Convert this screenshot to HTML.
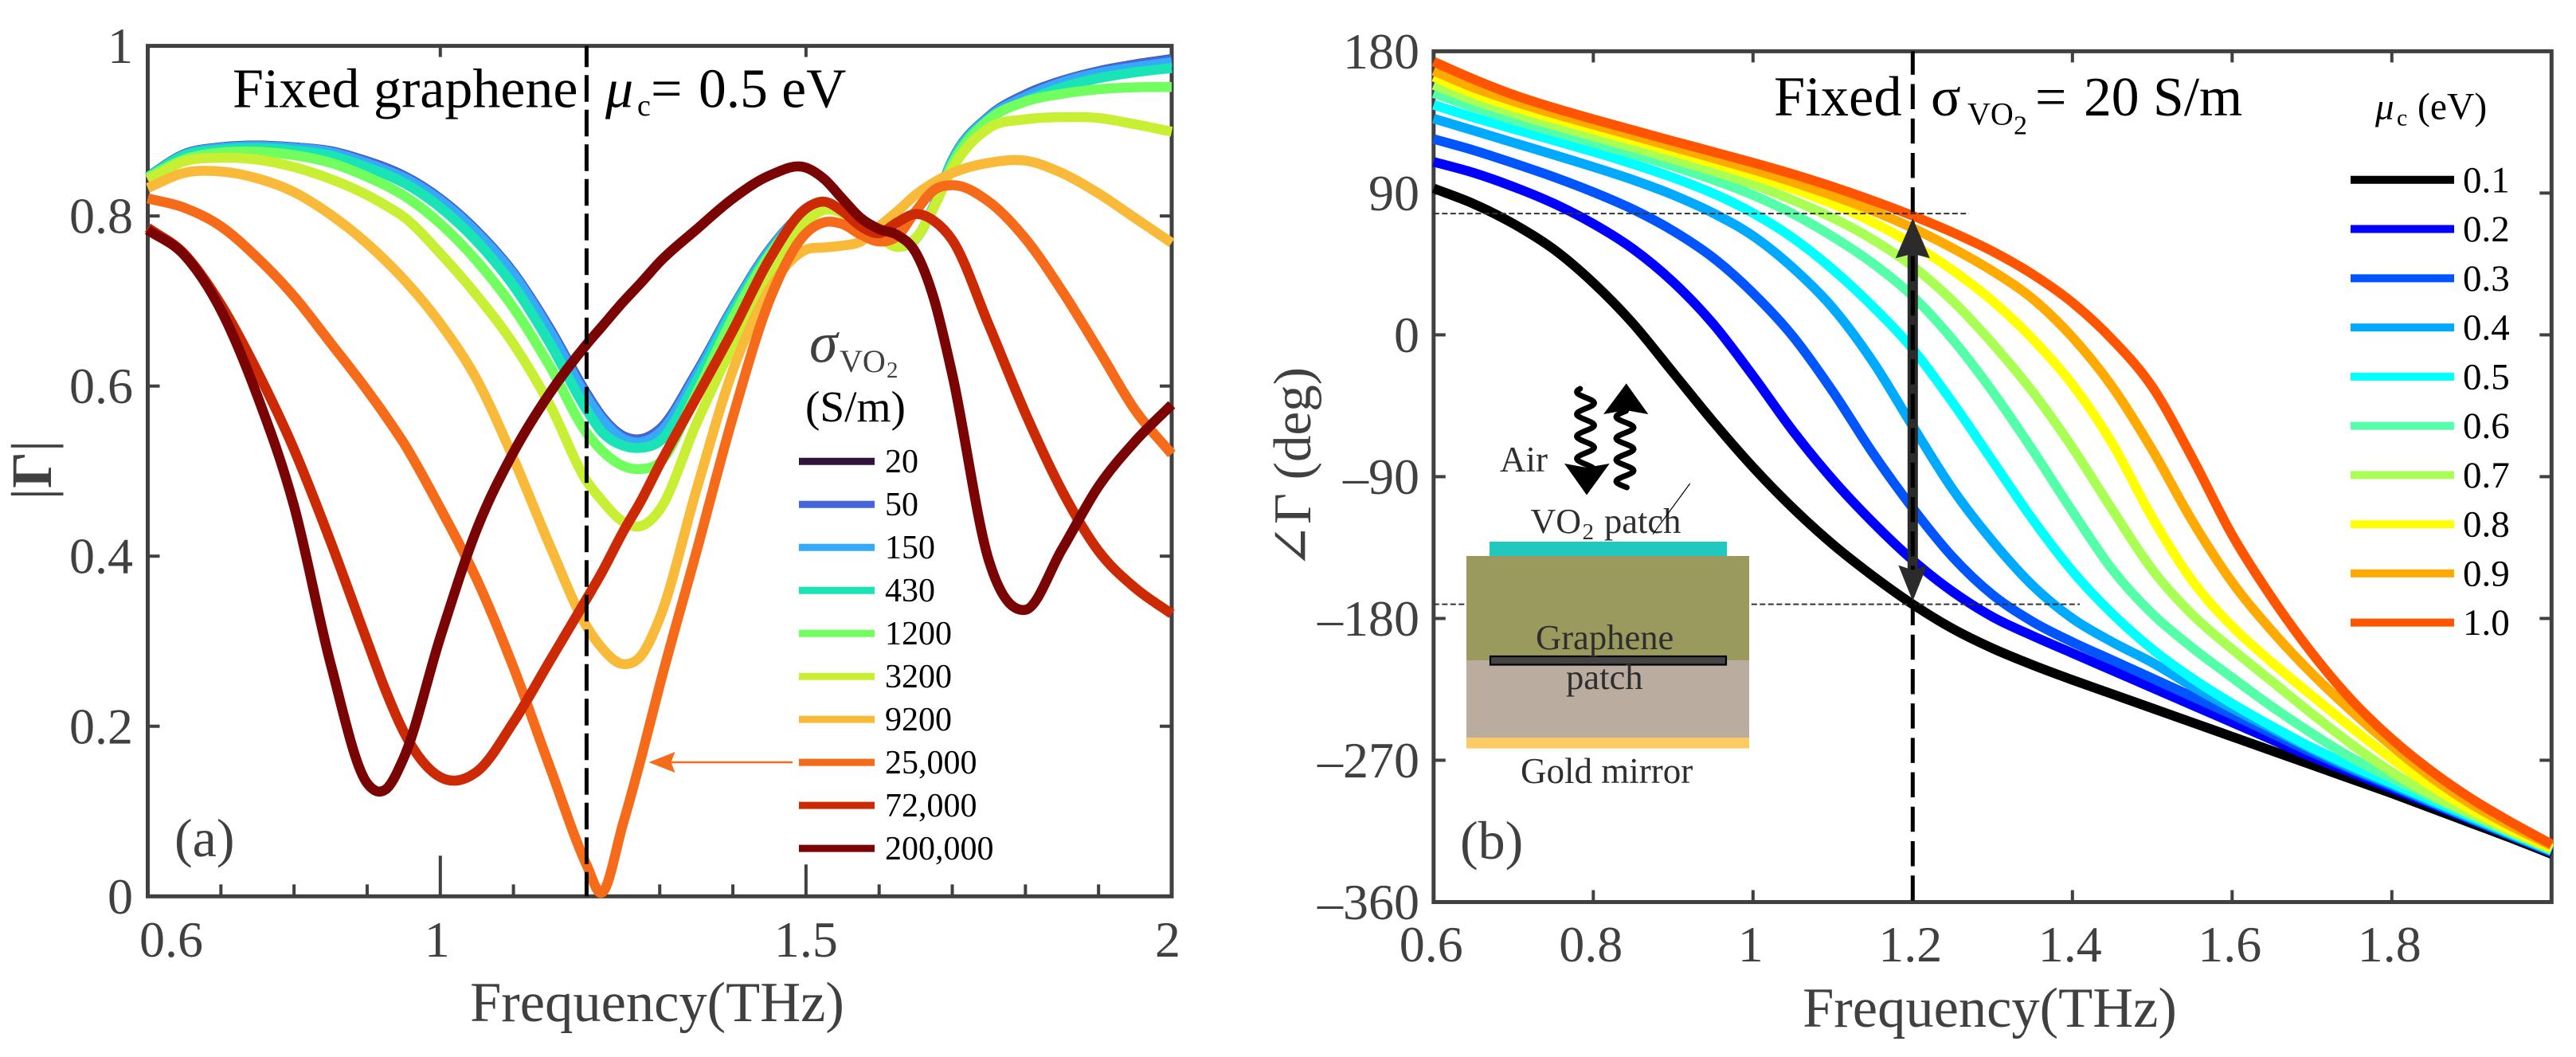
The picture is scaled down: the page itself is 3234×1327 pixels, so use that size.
<!DOCTYPE html>
<html lang="en">
<head>
<meta charset="utf-8">
<title>Reflection magnitude and phase vs frequency</title>
<style>
html,body{margin:0;padding:0;background:#fff;}
svg{display:block;font-family:"Liberation Serif","DejaVu Serif",serif;}
</style>
</head>
<body>
<svg id="fig" xmlns="http://www.w3.org/2000/svg" width="3234" height="1327" viewBox="0 0 3234 1327">
<rect x="0" y="0" width="3234" height="1327" fill="#fff"/>
<g id="panelA"></g>
<g id="panelB"></g>

<!-- Panel a static text -->
<text x="292" y="134.5" font-size="70" fill="#000">Fixed graphene</text>
<text x="760" y="134.5" font-size="70" font-style="italic" fill="#000">μ</text>
<text x="800" y="145" font-size="38" fill="#000">c</text>
<text x="817" y="134.5" font-size="70" fill="#000">=</text>
<text x="877" y="134.5" font-size="69.5" fill="#000">0.5 eV</text>
<text x="219" y="1075" font-size="68" fill="#404040">(a)</text>
<text x="825" y="1282" font-size="70.5" fill="#404040" text-anchor="middle">Frequency(THz)</text>
<text transform="translate(64,590) rotate(-90)" font-size="72" fill="#404040" text-anchor="middle">|<tspan font-weight="bold">Γ</tspan>|</text>
<text x="1016" y="454.5" font-size="72" font-style="italic" fill="#404040">σ</text>
<text x="1054" y="467" font-size="40" fill="#404040">VO</text>
<text x="1113" y="474" font-size="29" fill="#404040">2</text>
<text x="1011" y="529" font-size="55.3" fill="#000">(S/m)</text>

<line x1="995" y1="957" x2="840" y2="957" stroke="#f66b19" stroke-width="2.5"/>
<polygon points="814.5,957 847.5,944 842.5,957 847.5,970" fill="#f66b19"/>

<!-- Panel b static text -->
<text x="2227" y="145" font-size="70.5" fill="#000">Fixed</text>
<text x="2424" y="145" font-size="70" fill="#000">σ</text>
<text x="2470" y="156.5" font-size="40" fill="#000">VO</text>
<text x="2528" y="168.5" font-size="34" fill="#000">2</text>
<text x="2555" y="145" font-size="70" fill="#000">=</text>
<text x="2616" y="145" font-size="69.6" fill="#000">20 S/m</text>
<text x="1833" y="1078" font-size="68" fill="#404040">(b)</text>
<text x="2498" y="1289" font-size="70.5" fill="#404040" text-anchor="middle">Frequency(THz)</text>
<text transform="translate(1645,461) rotate(-90)" font-size="67" fill="#404040" text-anchor="end">∠Γ (deg)</text>
<text x="2982" y="149.5" font-size="47" font-style="italic" fill="#000">μ</text>
<text x="3009" y="157.5" font-size="30" fill="#000">c</text>
<text x="3035" y="149.5" font-size="47.6" fill="#000">(eV)</text>

<!-- Inset: device schematic -->
<g>
  <rect x="1870" y="680" width="298" height="19" fill="#20c8c0"/>
  <rect x="1841" y="698" width="355" height="131" fill="#9a9a5e"/>
  <rect x="1841" y="829" width="355" height="97" fill="#baad9f"/>
  <rect x="1841" y="926" width="355" height="13.6" fill="#fdcb66"/>
  <rect x="1871" y="824" width="296" height="10.5" fill="#444" stroke="#000" stroke-width="2.2"/>
  <text x="1883" y="592" font-size="45" fill="#2e2e2e">Air</text>
  <text x="1921.5" y="669" font-size="44" fill="#2e2e2e">VO</text>
  <text x="1986.5" y="677" font-size="29" fill="#2e2e2e">2</text>
  <text x="2014" y="669" font-size="44.5" fill="#2e2e2e">patch</text>
  <line x1="2121.7" y1="607" x2="2075" y2="670.7" stroke="#000" stroke-width="1.2"/>
  <text x="1928" y="815" font-size="44.6" fill="#2e2e2e">Graphene</text>
  <text x="1966" y="865" font-size="44.6" fill="#2e2e2e">patch</text>
  <text x="1909" y="983" font-size="45" fill="#2e2e2e">Gold mirror</text>
  <polygon points="1992,621.5 1964,582 1992,587 2020.7,582" fill="#000"/>
  <polygon points="2041.7,481.4 2013,520 2041,515 2069.3,520" fill="#000"/>
  <polyline id="waveIn" fill="none" stroke="#000" stroke-width="7" stroke-linecap="round" stroke-linejoin="round"/>
  <polyline id="waveOut" fill="none" stroke="#000" stroke-width="7" stroke-linecap="round" stroke-linejoin="round"/>
</g>
</svg>

<script>
// ---------- Panel (a) data ----------
const freqA = [0.6,0.65,0.7,0.75,0.8,0.85,0.9,0.925,0.95,1,1.05,1.1,1.15,1.2,1.22,1.25,1.275,1.3,1.35,1.4,1.45,1.5,1.525,1.55,1.575,1.6,1.625,1.65,1.675,1.7,1.75,1.8,1.85,1.9,1.95,2];
const sigma20 = [0.8462,0.8727,0.8807,0.8828,0.8807,0.8762,0.8642,0.8567,0.8472,0.8202,0.7822,0.7332,0.6672,0.5912,0.5652,0.5412,0.5377,0.5492,0.6152,0.6922,0.7602,0.8047,0.8122,0.8057,0.7912,0.7767,0.7647,0.7732,0.8122,0.8654,0.917,0.9427,0.9589,0.9702,0.9782,0.9845];
const sigma50 = [0.846,0.8725,0.8805,0.8826,0.8805,0.876,0.864,0.8565,0.847,0.82,0.782,0.733,0.667,0.591,0.565,0.541,0.5375,0.549,0.615,0.692,0.76,0.8045,0.812,0.8055,0.791,0.7765,0.7645,0.773,0.812,0.8652,0.9168,0.9425,0.9587,0.97,0.978,0.9842];
const sigma150 = [0.846,0.872,0.88,0.882,0.88,0.875,0.862,0.854,0.845,0.818,0.78,0.731,0.664,0.587,0.562,0.538,0.534,0.545,0.612,0.691,0.759,0.8045,0.812,0.8055,0.791,0.7765,0.7645,0.773,0.812,0.865,0.916,0.94,0.957,0.968,0.975,0.981];
const sigma430 = [0.8455,0.871,0.878,0.88,0.877,0.871,0.857,0.849,0.839,0.81,0.77,0.718,0.65,0.572,0.547,0.53,0.5275,0.535,0.605,0.687,0.756,0.804,0.813,0.806,0.791,0.7765,0.7645,0.773,0.811,0.863,0.914,0.935,0.951,0.962,0.969,0.974];
const sigma1200 = [0.8455,0.8665,0.8745,0.8755,0.8715,0.8625,0.846,0.836,0.824,0.791,0.747,0.692,0.623,0.545,0.525,0.506,0.5025,0.51,0.591,0.68,0.754,0.8025,0.8125,0.8065,0.791,0.7765,0.7652,0.774,0.8104,0.8604,0.913,0.9345,0.9436,0.949,0.9513,0.9516];
const sigma3200 = [0.8426,0.8642,0.8684,0.8662,0.8575,0.8435,0.8245,0.8125,0.799,0.756,0.7065,0.6495,0.5775,0.4885,0.4665,0.4405,0.4355,0.4546,0.5556,0.6475,0.7265,0.7926,0.8071,0.8033,0.7894,0.7749,0.7636,0.7733,0.8104,0.8555,0.9032,0.9136,0.9162,0.9152,0.9078,0.8991];
const sigma9200 = [0.8329,0.8507,0.8523,0.8442,0.8281,0.8015,0.7675,0.7475,0.7255,0.6735,0.6075,0.515,0.412,0.3176,0.293,0.2731,0.2835,0.3272,0.4772,0.6185,0.7136,0.7604,0.763,0.7652,0.77,0.7878,0.8055,0.8249,0.8395,0.8505,0.8625,0.865,0.8505,0.8265,0.7975,0.7684];
const sigma25000 = [0.8207,0.8097,0.7878,0.7507,0.7055,0.6507,0.595,0.565,0.533,0.4563,0.3724,0.2692,0.1515,0.037,0.004,0.086,0.164,0.2482,0.4046,0.5636,0.7007,0.7797,0.7926,0.7904,0.7781,0.77,0.7765,0.8055,0.8304,0.8362,0.8168,0.7733,0.712,0.6427,0.5717,0.5201];
const sigma72000 = [0.7862,0.7555,0.696,0.617,0.5255,0.417,0.3,0.2425,0.1935,0.1402,0.1466,0.2047,0.2772,0.3498,0.3795,0.4288,0.4659,0.508,0.5862,0.6652,0.7491,0.8088,0.8168,0.8055,0.7878,0.7797,0.7926,0.8023,0.7942,0.7717,0.6717,0.568,0.477,0.406,0.3627,0.3321];
const sigma200000 = [0.7836,0.754,0.6894,0.588,0.4589,0.2735,0.133,0.1255,0.1628,0.3047,0.432,0.522,0.592,0.649,0.669,0.699,0.722,0.746,0.784,0.8205,0.8475,0.8568,0.8433,0.82,0.7975,0.7846,0.7775,0.7571,0.7023,0.6136,0.395,0.3369,0.408,0.482,0.535,0.5781];
const labelsA = ["20","50","150","430","1200","3200","9200","25,000","72,000","200,000"];
const colorsA = ["#30123b","#4665d9","#36aaf9","#1ae4b6","#72fe5e","#c8ef34","#faba39","#f66b19","#cb2a04","#7a0403"];
const seriesA = [sigma20,sigma50,sigma150,sigma430,sigma1200,sigma3200,sigma9200,sigma25000,sigma72000,sigma200000];
const xTicksA = [0.6,1,1.5,2];
const xTickLabelsA = ["0.6","1","1.5","2"];
const xMinorA = [0.7,0.8,0.9,1.1,1.2,1.3,1.4,1.6,1.7,1.8,1.9];
const yTicksA = [0,0.2,0.4,0.6,0.8,1];
const yTickLabelsA = ["0","0.2","0.4","0.6","0.8","1"];
const markerFreqA = 1.2;

// ---------- Panel (b) data ----------
const freqB = [0.6,0.65,0.7,0.75,0.8,0.85,0.9,0.95,1,1.05,1.1,1.15,1.2,1.25,1.3,1.35,1.4,1.45,1.5,1.55,1.6,1.65,1.7,1.75,1.8,1.85,1.9,1.95,2];
const mu01 = [93,83.2,70.5,54.5,33,7,-24,-55,-84,-110,-133,-153,-171,-186.5,-199,-209.5,-219,-228,-237,-246,-255,-264,-273,-282,-291,-300.5,-310,-319.5,-329.5];
const mu02 = [109.8,102.9,94,83.5,70.5,54.5,33.5,7,-26,-61,-92,-119,-143,-163,-179,-191,-202,-213,-224,-235,-246,-257,-268,-278,-288,-298,-308,-318,-328.5];
const mu03 = [124.3,117.2,109,100.3,90.6,79.6,66,49,26.5,-1,-36,-75,-110,-141,-165,-182,-195,-206.5,-218,-229.5,-241,-253,-265,-276,-286.5,-297,-307.5,-318,-328.2];
const mu04 = [137.3,129.7,122,114.4,106.6,98.3,88.8,77.3,62.8,42.5,17,-17,-58,-98,-131,-159,-180,-195,-208,-223,-237,-250,-263,-275,-285.5,-296.5,-307,-317.3,-327.7];
const mu05 = [146,138,130.7,123.5,116.2,108.4,99.8,89.8,77.3,61.5,41.5,18,-9,-43,-80,-117,-150,-177,-199.5,-218,-234,-248.5,-262,-273.7,-284.5,-295.4,-306,-316.7,-327.3];
const mu06 = [153.4,144.5,136.4,129,122,114.7,107,98.5,88.7,76.8,62.3,45.4,24.5,-3,-36,-73,-112,-149,-177,-198.5,-217.5,-236,-253,-268.5,-281.5,-293.5,-304.5,-315.5,-326.8];
const mu07 = [158.6,148.9,140.7,133.2,126.1,119,111.6,104,95.5,85.5,74.2,60.5,43.5,21.5,-5.5,-36,-71.5,-111,-149,-177.5,-199.5,-220,-240.5,-260,-277.5,-292,-304.5,-315.8,-326.4];
const mu08 = [163.8,153.2,144.8,137.4,130.4,123.4,116.3,109,101.2,92.7,83,71.5,57.5,41,21.5,-2.5,-31.5,-69,-116,-156,-185,-208,-229,-249.5,-269,-286.5,-301.5,-314.2,-325.9];
const mu09 = [167.6,157,148.3,140.5,133.4,126.4,119.3,112.2,104.9,97,88.4,78.8,67.8,55,40.5,23,-1.5,-33,-73,-118,-157,-188,-215,-239,-261,-281,-298,-312,-324.2];
const mu10 = [173.4,162.3,152.4,144.2,136.9,129.9,123,116.2,109.3,102,94,85.2,75.6,65,53,38.5,20.5,-3,-33,-78,-127,-167,-202,-232,-256.5,-277,-294.5,-309.5,-323.3];
const labelsB = ["0.1","0.2","0.3","0.4","0.5","0.6","0.7","0.8","0.9","1.0"];
const colorsB = ["#000000","#0000ff","#0055ff","#00aaff","#00ffff","#55ffaa","#aaff55","#ffff00","#ffaa00","#ff5500"];
const seriesB = [mu01,mu02,mu03,mu04,mu05,mu06,mu07,mu08,mu09,mu10];
const xTicksB = [0.6,0.8,1,1.2,1.4,1.6,1.8];
const xTickLabelsB = ["0.6","0.8","1","1.2","1.4","1.6","1.8"];
const yTicksB = [180,90,0,-90,-180,-270,-360];
const yTickLabelsB = ["180","90","0","–90","–180","–270","–360"];
const markerFreqB = 1.2;
const phaseRange = [-171,77];

// ---------- Axis functions ----------
const NS = "http://www.w3.org/2000/svg";
const AXIS = "#404040";
const xA = f => 185.5 + (f - 0.6) * 918.2;
const yA = v => 1125.3 - v * 1067.7;
const xB = f => 1799.8 + (f - 0.6) * 1002.5;
const yB = d => 420.4 - d * 1.978;

function mk(tag, parent, attrs) {
  const el = document.createElementNS(NS, tag);
  for (const k in attrs) el.setAttribute(k, attrs[k]);
  parent.appendChild(el);
  return el;
}

function curvePath(fs, vs, sx, sy) {
  const X = fs.map(sx), Y = vs.map(sy), n = X.length, m = new Array(n);
  for (let i = 0; i < n; i++) {
    if (i === 0) m[i] = (Y[1] - Y[0]) / (X[1] - X[0]);
    else if (i === n - 1) m[i] = (Y[n-1] - Y[n-2]) / (X[n-1] - X[n-2]);
    else {
      const h0 = X[i] - X[i-1], h1 = X[i+1] - X[i];
      m[i] = ((Y[i+1] - Y[i]) / h1 * h0 + (Y[i] - Y[i-1]) / h0 * h1) / (h0 + h1);
    }
  }
  let d = "M" + X[0].toFixed(2) + " " + Y[0].toFixed(2);
  for (let i = 0; i < n - 1; i++) {
    const h = (X[i+1] - X[i]) / 3;
    d += "C" + (X[i] + h).toFixed(2) + " " + (Y[i] + m[i] * h).toFixed(2) + " " +
         (X[i+1] - h).toFixed(2) + " " + (Y[i+1] - m[i+1] * h).toFixed(2) + " " +
         X[i+1].toFixed(2) + " " + Y[i+1].toFixed(2);
  }
  return d;
}

// ---------- Panel (a) ----------
const A = document.getElementById("panelA");
const frameA = mk("rect", A, {x: xA(0.6), y: yA(1), width: xA(2) - xA(0.6), height: yA(0) - yA(1), fill: "none", stroke: AXIS, "stroke-width": 5});



xMinorA.forEach(v => {
  const t = mk("line", A, {x1: xA(v), x2: xA(v), y1: yA(0), y2: yA(0) - 15, stroke: AXIS, "stroke-width": 4});
  
  
});
xTicksA.forEach((v, i) => {
  const inner = v === 1 ? 51 : v === 1.5 ? 40 : 0;
  if (inner) {
    const t = mk("line", A, {x1: xA(v), x2: xA(v), y1: yA(0), y2: yA(0) - inner, stroke: AXIS, "stroke-width": 4});
    
    
    const u = mk("line", A, {x1: xA(v), x2: xA(v), y1: yA(1), y2: yA(1) + 14, stroke: AXIS, "stroke-width": 4});
    
    
  }
  const shift = v === 0.6 ? 29.5 : v === 2 ? -5 : v === 1 ? -4 : 0;
  const lab = mk("text", A, {x: xA(v) + shift, y: 1201, "font-size": 64, fill: AXIS, "text-anchor": "middle"});
  lab.textContent = xTickLabelsA[i];
  
  
});
yTicksA.forEach((v, i) => {
  if (v > 0 && v < 1) {
    const t = mk("line", A, {x1: xA(0.6), x2: xA(0.6) + 15, y1: yA(v), y2: yA(v), stroke: AXIS, "stroke-width": 4});
    
    
    const u = mk("line", A, {x1: xA(2), x2: xA(2) - 15, y1: yA(v), y2: yA(v), stroke: AXIS, "stroke-width": 4});
    
    
  }
  const lab = mk("text", A, {x: 167, y: yA(v) + 21.5, "font-size": 64, fill: AXIS, "text-anchor": "end"});
  lab.textContent = yTickLabelsA[i];
  
  
});
seriesA.forEach((vals, i) => {
  const p = mk("path", A, {d: curvePath(freqA, vals, xA, yA), fill: "none", stroke: colorsA[i], "stroke-width": 12.5, "stroke-linejoin": "round"});
  
  
});
const markA = mk("line", A, {x1: xA(markerFreqA), x2: xA(markerFreqA), y1: yA(1), y2: yA(0), stroke: "#000", "stroke-width": 5, "stroke-dasharray": "33.4 10.1", "stroke-dashoffset": 6.8});


labelsA.forEach((name, i) => {
  const rowY = 579.3 + i * 53.98;
  const sw = mk("line", A, {x1: 1003, x2: 1098, y1: rowY, y2: rowY, stroke: colorsA[i], "stroke-width": 9});
  
  
  const tx = mk("text", A, {x: 1111, y: rowY + 13.8, "font-size": 42, fill: "#000"});
  tx.textContent = name;
  
  
});

// ---------- Panel (b) ----------
const B = document.getElementById("panelB");
const frameB = mk("rect", B, {x: xB(0.6), y: yB(180), width: xB(2) - xB(0.6), height: yB(-360) - yB(180), fill: "none", stroke: AXIS, "stroke-width": 5});


xTicksB.forEach((v, i) => {
  if (v > 0.6) {
    const t = mk("line", B, {x1: xB(v), x2: xB(v), y1: yB(-360), y2: yB(-360) - 15, stroke: AXIS, "stroke-width": 4});
    
    
    const u = mk("line", B, {x1: xB(v), x2: xB(v), y1: yB(180), y2: yB(180) + 14, stroke: AXIS, "stroke-width": 4});
    
    
  }
  const lab = mk("text", B, {x: xB(v) - 3, y: 1207, "font-size": 64, fill: AXIS, "text-anchor": "middle"});
  lab.textContent = xTickLabelsB[i];
  
  
});
yTicksB.forEach((v, i) => {
  if (v < 180 && v > -360) {
    const t = mk("line", B, {x1: xB(0.6), x2: xB(0.6) + 15, y1: yB(v), y2: yB(v), stroke: AXIS, "stroke-width": 4});
    
    
    const u = mk("line", B, {x1: xB(2), x2: xB(2) - 15, y1: yB(v), y2: yB(v), stroke: AXIS, "stroke-width": 4});
    
    
  }
  const lab = mk("text", B, {x: 1782, y: yB(v) + 21.5, "font-size": 64, fill: AXIS, "text-anchor": "end"});
  lab.textContent = yTickLabelsB[i];
  
  
});
seriesB.forEach((vals, i) => {
  const p = mk("path", B, {d: curvePath(freqB, vals, xB, yB), fill: "none", stroke: colorsB[i], "stroke-width": 12, "stroke-linejoin": "round"});
  
  
});
const dotTop = mk("line", B, {x1: xB(0.6), x2: 2472, y1: yB(phaseRange[1]), y2: yB(phaseRange[1]), stroke: "#333", "stroke-width": 2, "stroke-dasharray": "7 3.5"});


const dotBottom = mk("line", B, {x1: xB(0.6), x2: 2611, y1: yB(phaseRange[0]), y2: yB(phaseRange[0]), stroke: "#333", "stroke-width": 2, "stroke-dasharray": "7 3.5"});


const shaft = mk("line", B, {x1: xB(markerFreqB), x2: xB(markerFreqB), y1: yB(phaseRange[1]) + 50, y2: yB(phaseRange[0]) - 42, stroke: "#2b2b2b", "stroke-width": 13});


const markB = mk("line", B, {x1: xB(markerFreqB), x2: xB(markerFreqB), y1: yB(180), y2: yB(-360), stroke: "#000", "stroke-width": 5, "stroke-dasharray": "31.5 11.7", "stroke-dashoffset": 2});


const mx = xB(markerFreqB), yUp = yB(phaseRange[1]) + 6, yDown = yB(phaseRange[0]) - 4;
const headUp = mk("polygon", B, {points: [mx, yUp, mx - 21.5, yUp + 50, mx, yUp + 44.5, mx + 21.5, yUp + 50].join(" "), fill: "#2b2b2b"});


const headDown = mk("polygon", B, {points: [mx, yDown, mx - 18, yDown - 45, mx, yDown - 39, mx + 18, yDown - 45].join(" "), fill: "#2b2b2b"});


labelsB.forEach((name, i) => {
  const rowY = 225.8 + i * 61.76;
  const sw = mk("line", B, {x1: 2951, x2: 3081, y1: rowY, y2: rowY, stroke: colorsB[i], "stroke-width": 10});
  
  
  const tx = mk("text", B, {x: 3092, y: rowY + 15.6, "font-size": 47, fill: "#000"});
  tx.textContent = name;
  
  
});

// ---------- Wavy arrows in the schematic ----------
function wavePoints(cx, y0, y1, peakY, period, amp) {
  const pts = [];
  for (let y = y0; y <= y1; y += 1.5) {
    pts.push((cx + amp * Math.cos(2 * Math.PI * (y - peakY) / period)).toFixed(1) + "," + y.toFixed(1));
  }
  return pts.join(" ");
}
document.getElementById("waveIn").setAttribute("points", wavePoints(1990.5, 488, 590, 506, 27.9, 11));
document.getElementById("waveOut").setAttribute("points", wavePoints(2040, 516, 612, 536.8, 27, 11));
</script>
</body>
</html>
